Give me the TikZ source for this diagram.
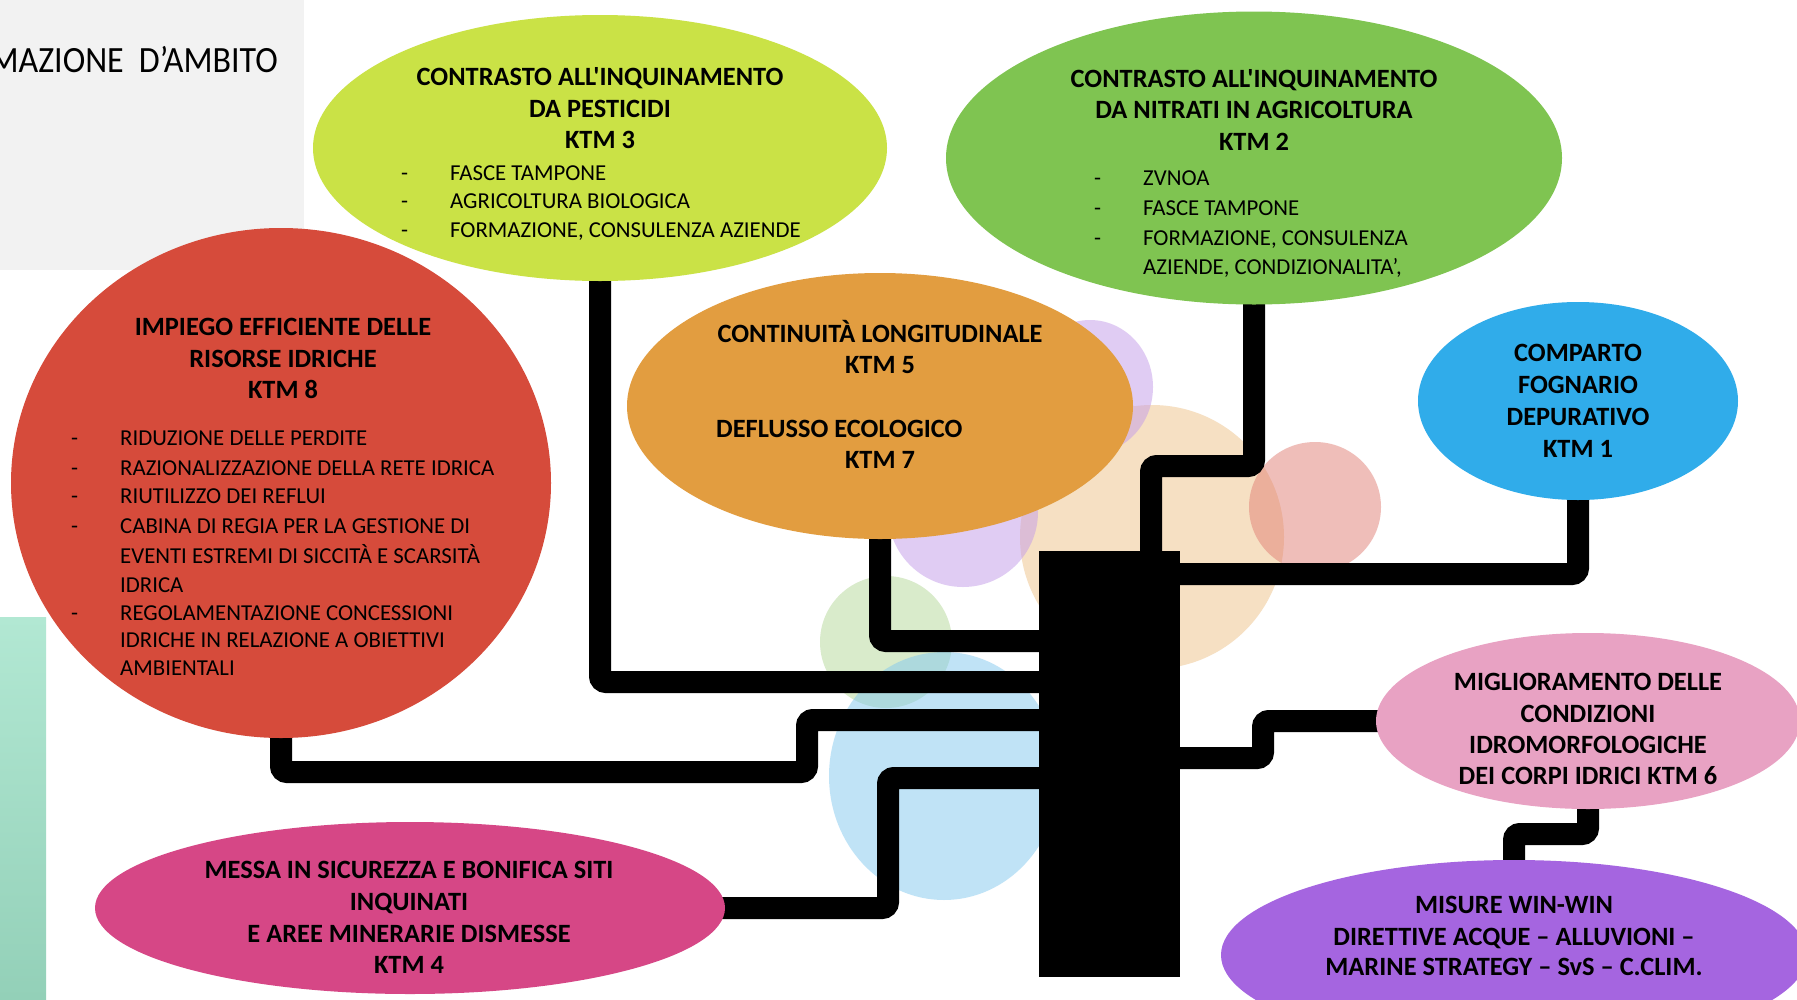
\documentclass[tikz,border=0pt]{standalone}
\usepackage{fontspec}
\usepackage{graphicx}
\setmainfont{Carlito}[Ligatures=TeXOff]
\usetikzlibrary{shapes.geometric}

\pgfdeclarelayer{bg}
\pgfdeclarelayer{wires}
\pgfsetlayers{bg,wires,main}

\definecolor{panelgray}{HTML}{F2F2F2}
\definecolor{mintTop}{HTML}{B2E8D3}
\definecolor{mintBot}{HTML}{93D0B8}
\definecolor{lime}{HTML}{CAE246}
\definecolor{leaf}{HTML}{7FC451}
\definecolor{brick}{HTML}{D64B3B}
\definecolor{amber}{HTML}{E29D40}
\definecolor{sky}{HTML}{30ACEA}
\definecolor{rose}{HTML}{E8A2C3}
\definecolor{violet}{HTML}{A565E0}
\definecolor{cerise}{HTML}{D64786}
\definecolor{softgreen}{HTML}{D9EBCB}
\definecolor{softblue}{HTML}{83C9EF}
\definecolor{softlilac}{HTML}{C39BE9}
\definecolor{softpeach}{HTML}{F6E0C3}
\definecolor{softsalmon}{HTML}{E17F75}

\tikzset{
  blob/.style={ellipse, inner sep=0pt, outer sep=0pt, draw=none},
  conn/.style={line width=22pt, black, rounded corners=6pt},
  hd/.style={font=\bfseries\fontsize{26.4}{31}\selectfont, inner sep=0pt, anchor=base},
  itm/.style={font=\fontsize{22.8}{28}\selectfont, inner sep=0pt, anchor=base west},
}

\begin{document}
\begin{tikzpicture}[x=1pt, y=-1pt]
\useasboundingbox (0,0) rectangle (1797,999);

% backdrop panels and pale bubbles
\begin{pgfonlayer}{bg}
  \fill[white] (0,0) rectangle (1797,999);
  \fill[panelgray] (0,0) rectangle (304,270);
  \shade[top color=mintTop, bottom color=mintBot] (0,617) rectangle (46,999);
  \fill[softpeach] (1152,537) circle[radius=132];
  \fill[softgreen] (886,642) circle[radius=66];
  \fill[softblue, fill opacity=0.5] (944,776) ellipse[x radius=115, y radius=124];
  \fill[softlilac, fill opacity=0.5] (1090,387) ellipse[x radius=63, y radius=67];
  \fill[softlilac, fill opacity=0.5] (963,512) circle[radius=75];
  \fill[softsalmon, fill opacity=0.5] (1315,507) ellipse[x radius=66, y radius=65];
\end{pgfonlayer}

% heading fragment on the grey panel
\node[font=\fontsize{34}{40}\selectfont, inner sep=0pt, anchor=base east] (title)
  at (278,72) {\scalebox{1}[1.09]{MAZIONE\hspace{15pt}D’AMBITO}};

% measure bubbles
\node[blob, fill=lime,   minimum width=574pt, minimum height=266pt] (k3) at (600,148) {};
\node[blob, fill=leaf,   minimum width=616pt, minimum height=293pt] (k2) at (1254,158) {};
\node[blob, fill=brick,  minimum width=540pt, minimum height=510pt] (k8) at (281,483) {};
\node[blob, fill=amber,  minimum width=506pt, minimum height=266pt] (k5) at (880,406) {};
\node[blob, fill=sky,    minimum width=320pt, minimum height=198pt] (k1) at (1578,401) {};
\node[blob, fill=rose,   minimum width=424pt, minimum height=176pt] (k6) at (1588,721) {};
\node[blob, fill=violet, minimum width=586pt, minimum height=190pt] (ww) at (1514,955) {};
\node[blob, fill=cerise, minimum width=630pt, minimum height=172pt] (k4) at (410,908) {};

% trunk
\node[fill=black, inner sep=0pt, outer sep=0pt, minimum width=141pt, minimum height=426pt] (trunk) at (1109.5,764) {};

% branches
\begin{pgfonlayer}{wires}
  \draw[conn] (k3.center) |- (trunk.center |- 0,682);
  \draw[conn] (k5.center) |- (trunk.center |- 0,641);
  \draw[conn] (k8.center) |- (807,772) |- (trunk.center |- 0,720);
  \draw[conn] (k4.center) -| (888,778) -- (trunk.center |- 0,778);
  \draw[conn] (k2.center) |- (1151,466) -- (trunk.center -| 1151,0);
  \draw[conn] (k1.center) |- (trunk.center |- 0,574);
  \draw[conn] (k6.center) -| (1263,758) -- (trunk.center |- 0,758);
  \draw[conn] (k6.center) |- (1514,834) -- (ww.center);
\end{pgfonlayer}

% KTM 3
\foreach \yy/\lbl [count=\i] in {85/{CONTRASTO ALL'INQUINAMENTO},117/{DA PESTICIDI},148/{KTM 3}}
  \node[hd] (k3h\i) at (600,\yy) {\lbl};
\foreach \yy/\lbl [count=\i] in {180/{FASCE TAMPONE},208/{AGRICOLTURA BIOLOGICA},237/{FORMAZIONE, CONSULENZA AZIENDE}} {
  \node[itm] (k3d\i) at (401,\yy) {-};
  \node[itm] (k3i\i) at (450,\yy) {\lbl};
}

% KTM 2
\foreach \yy/\lbl [count=\i] in {87/{CONTRASTO ALL'INQUINAMENTO},118/{DA NITRATI IN AGRICOLTURA},150/{KTM 2}}
  \node[hd] (k2h\i) at (1254,\yy) {\lbl};
\foreach \yy/\lbl [count=\i] in {185/{ZVNOA},215/{FASCE TAMPONE},245/{FORMAZIONE, CONSULENZA}} {
  \node[itm] (k2d\i) at (1094,\yy) {-};
  \node[itm] (k2i\i) at (1143,\yy) {\lbl};
}
\node[itm] (k2i4) at (1143,274) {AZIENDE, CONDIZIONALITA’,};

% KTM 8
\foreach \yy/\lbl [count=\i] in {335/{IMPIEGO EFFICIENTE DELLE},367/{RISORSE IDRICHE},398/{KTM 8}}
  \node[hd] (k8h\i) at (283,\yy) {\lbl};
\foreach \yy [count=\i] in {445,475,503,533,620}
  \node[itm] (k8d\i) at (71,\yy) {-};
\foreach \yy/\lbl [count=\i] in {445/{RIDUZIONE DELLE PERDITE},475/{RAZIONALIZZAZIONE DELLA RETE IDRICA},503/{RIUTILIZZO DEI REFLUI},533/{CABINA DI REGIA PER LA GESTIONE DI},563/{EVENTI ESTREMI DI SICCITÀ E SCARSITÀ},592/{IDRICA},620/{REGOLAMENTAZIONE CONCESSIONI},647/{IDRICHE IN RELAZIONE A OBIETTIVI},675/{AMBIENTALI}}
  \node[itm] (k8i\i) at (120,\yy) {\lbl};

% KTM 5 / KTM 7
\node[hd] (k5h1) at (880,342) {CONTINUITÀ LONGITUDINALE};
\node[hd] (k5h2) at (880,373) {KTM 5};
\node[hd, anchor=base west] (k5h3) at (716,437) {DEFLUSSO ECOLOGICO};
\node[hd] (k5h4) at (880,468) {KTM 7};

% KTM 1
\foreach \yy/\lbl [count=\i] in {361/{COMPARTO},393/{FOGNARIO},425/{DEPURATIVO},457/{KTM 1}}
  \node[hd] (k1h\i) at (1578,\yy) {\lbl};

% KTM 6
\foreach \yy/\lbl [count=\i] in {690/{MIGLIORAMENTO DELLE},722/{CONDIZIONI},753/{IDROMORFOLOGICHE},784/{DEI CORPI IDRICI KTM 6}}
  \node[hd] (k6h\i) at (1588,\yy) {\lbl};

% win-win measures
\foreach \yy/\lbl [count=\i] in {913/{MISURE WIN-WIN},945/{DIRETTIVE ACQUE – ALLUVIONI –},975/{MARINE STRATEGY – SvS – C.CLIM.}}
  \node[hd] (wwh\i) at (1514,\yy) {\lbl};

% KTM 4
\foreach \yy/\lbl [count=\i] in {878/{MESSA IN SICUREZZA E BONIFICA SITI},910/{INQUINATI},942/{E AREE MINERARIE DISMESSE},973/{KTM 4}}
  \node[hd] (k4h\i) at (409,\yy) {\lbl};

\end{tikzpicture}
\end{document}
